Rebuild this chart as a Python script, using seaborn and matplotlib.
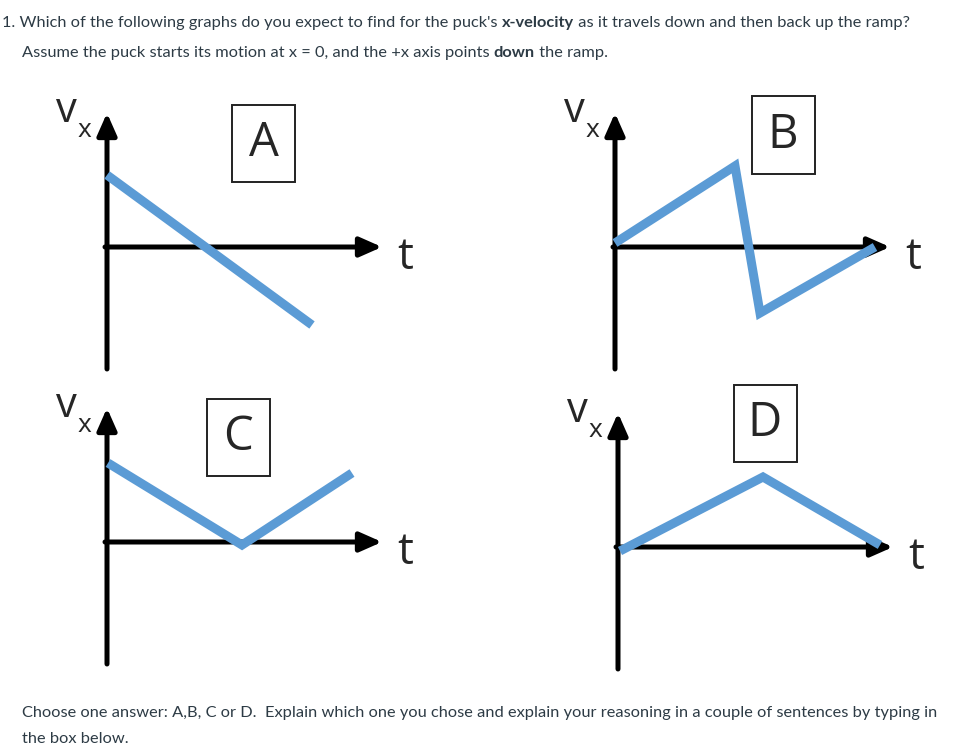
import matplotlib.pyplot as plt
import matplotlib.patches as patches
import seaborn as sns

# v_x against t (units: 10 px, origin where the axes cross)
t_A = [0, 20.5]
v_A = [7.2, -7.8]
t_B = [0, 12, 14.5, 26]
v_B = [0.4, 8.1, -6.6, 0]
t_C = [0.1, 13.5, 24.5]
v_C = [7.9, -0.3, 6.9]
t_D = [0.2, 14.5, 26.2]
v_D = [-0.4, 7.0, 0.2]

panel_names = ['A', 'B', 'C', 'D']
box_t = [15.65, 16.8, 13.1, 14.7]
box_v = [10.35, 11.2, 10.45, 12.35]

question = ["1. Which of the following graphs do you expect to find for the puck's ",
            "x-velocity", " as it travels down and then back up the ramp?"]
assume = ["Assume the puck starts its motion at x = 0, and the +x axis points ",
          "down", " the ramp."]
answer1 = ("Choose one answer: A,B, C or D.  Explain which one you chose and explain "
           "your reasoning in a couple of sentences by typing in")
answer2 = "the box below."

sns.set_style('white')
plt.rcParams['font.family'] = ['Open Sans', 'DejaVu Sans']

W, H = 976, 749
fig = plt.figure(figsize=(9.76, 7.49), dpi=100)

# pixel position of each origin
origins = [(107, 247), (615, 247), (107, 542), (618, 547)]
series = [(t_A, v_A), (t_B, v_B), (t_C, v_C), (t_D, v_D)]
blue = '#5b9bd5'
arrow = dict(arrowstyle='-|>,head_length=0.95,head_width=0.42', lw=3.6,
             color='black', shrinkA=0, shrinkB=0, mutation_scale=14)

for (ox, oy), (t, v), name, bt, bv in zip(origins, series, panel_names, box_t, box_v):
    ax = fig.add_axes([(ox - 67) / W, 1 - (oy + 128) / H, 380 / W, 280 / H])
    ax.set_xlim(-6.7, 31.3)
    ax.set_ylim(-12.8, 15.2)
    ax.axis('off')

    # the axes themselves, drawn as arrows
    ax.annotate('', xy=(27.5, 0), xytext=(-0.2, 0), arrowprops=arrow, zorder=2)
    ax.annotate('', xy=(0, 13.4), xytext=(0, -12.2), arrowprops=arrow, zorder=2)

    sns.lineplot(x=t, y=v, ax=ax, color=blue, lw=6.5, sort=False,
                 solid_capstyle='butt', solid_joinstyle='miter', zorder=3)

    ax.text(29.8, -2.2, 't', fontsize=32, ha='center', va='baseline')
    ax.text(-4.1, 12.5, 'v', fontsize=30, ha='center', va='baseline')
    ax.text(-2.3, 11.0, 'x', fontsize=19, ha='center', va='baseline')

    ax.add_patch(patches.Rectangle((bt - 3.15, bv - 3.85), 6.3, 7.7,
                                   fill=False, lw=1.4, ec='#222222', clip_on=False))
    ax.text(bt, bv, name, fontsize=34, ha='center', va='center')

# page text
tx = fig.add_axes([0, 0, 1, 1])
tx.set_xlim(0, W)
tx.set_ylim(H, 0)
tx.axis('off')
tx.patch.set_alpha(0)

txt_kw = dict(fontsize=11.8, family=['Lato', 'DejaVu Sans'], color='#2d3b45')


def chain(x, y, parts):
    prev = tx.text(x, y, parts[0], va='baseline', ha='left', **txt_kw)
    for i, p in enumerate(parts[1:]):
        prev = tx.annotate(p, xy=(1, 0), xycoords=prev, va='bottom', ha='left',
                           fontweight='bold' if i == 0 else 'normal', **txt_kw)


chain(2, 27, question)
chain(22, 57, assume)
tx.text(22, 717, answer1, va='baseline', ha='left', **txt_kw)
tx.text(22, 743, answer2, va='baseline', ha='left', **txt_kw)

fig.savefig('out.png', dpi=100)
